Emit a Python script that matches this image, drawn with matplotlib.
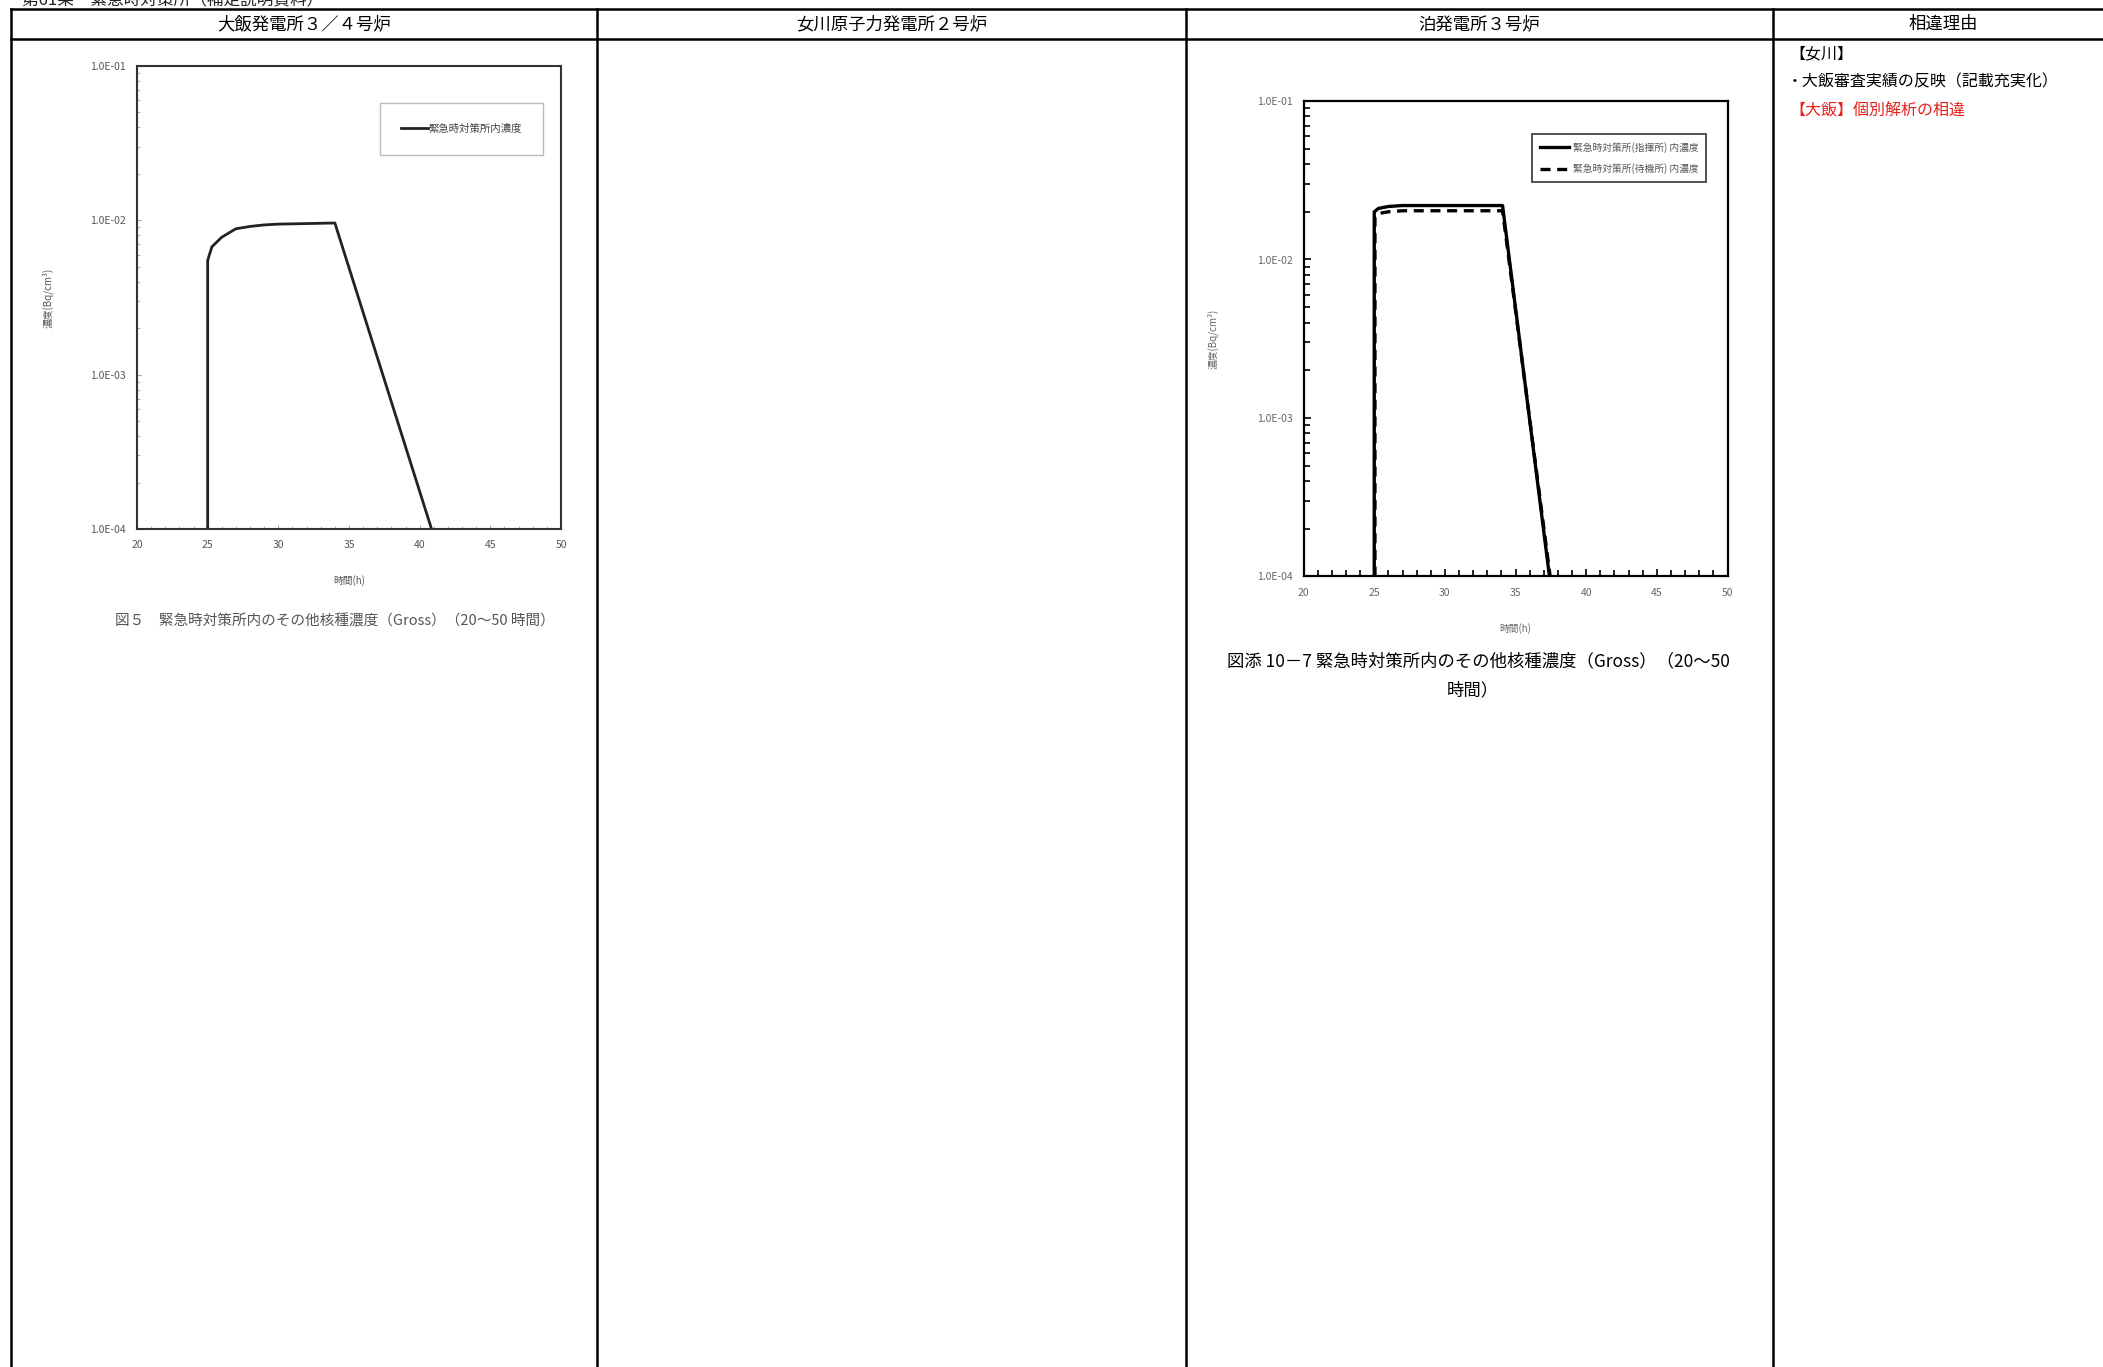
import matplotlib
matplotlib.use('Agg')
import matplotlib.pyplot as plt
from matplotlib.ticker import FixedLocator, LogLocator, MultipleLocator, NullFormatter

plt.rcParams['font.family'] = ['Noto Sans CJK JP', 'DejaVu Sans']

W, H = 2103, 1367

# 表のヘッダ
headers = ['大飯発電所３／４号炉', '女川原子力発電所２号炉', '泊発電所３号炉', '相違理由']
col_edges = [11, 597, 1186, 1773, 2103]

# 大飯 図5 のデータ
ohi_t = [25.0, 25.0, 25.3, 26.0, 27.0, 28.0, 29.0, 30.0, 34.0, 40.84]
ohi_c = [1e-4, 5.5e-3, 6.74e-3, 7.78e-3, 8.82e-3, 9.13e-3, 9.34e-3, 9.45e-3, 9.61e-3, 1e-4]
ohi_legend = '緊急時対策所内濃度'

# 泊 図添10-7 のデータ
tomari_t = [25.0, 25.0, 25.3, 26.0, 27.0, 34.08, 37.4]
tomari_shiki = [1e-4, 2.0e-2, 2.1e-2, 2.16e-2, 2.19e-2, 2.19e-2, 1e-4]
tomari_t2 = [25.05, 25.05, 25.3, 26.0, 27.0, 34.08, 37.45]
tomari_taiki = [1e-4, 1.86e-2, 1.95e-2, 2.0e-2, 2.03e-2, 2.03e-2, 1e-4]
tomari_legend = ['緊急時対策所(指揮所) 内濃度', '緊急時対策所(待機所) 内濃度']

yticks = [1e-4, 1e-3, 1e-2, 1e-1]
ytick_labels = ['1.0E-04', '1.0E-03', '1.0E-02', '1.0E-01']
xticks = [20, 25, 30, 35, 40, 45, 50]

fig = plt.figure(figsize=(W / 100, H / 100), dpi=100)

# 背景（表）
bg = fig.add_axes([0, 0, 1, 1])
bg.set_xlim(0, W)
bg.set_ylim(H, 0)
bg.axis('off')

for x in col_edges[:-1]:
    bg.plot([x, x], [9, H], color='black', lw=1.8)
bg.plot([11, W], [9, 9], color='black', lw=1.8)
bg.plot([11, W], [39, 39], color='black', lw=1.8)

for i, h in enumerate(headers):
    cx = (col_edges[i] + col_edges[i + 1]) / 2
    if i == 3:
        cx = 1943
    bg.text(cx, 24, h, ha='center', va='center', fontsize=12.5)

# 上端で切れている見出し（元の図と同じ）
bg.text(22, 1, '第61条　緊急時対策所（補足説明資料）', ha='left', va='center',
        fontsize=12, style='italic', color='#222222')

# 相違理由
bg.text(1789, 54, '【女川】', ha='left', va='center', fontsize=11.5)
bg.text(1787, 82, '・大飯審査実績の反映（記載充実化）', ha='left', va='center', fontsize=11.5)
bg.text(1789, 111, '【大飯】個別解析の相違', ha='left', va='center', fontsize=11.5, color='#e8201c')


def add_ax(x0, y0, x1, y1):
    return fig.add_axes([x0 / W, 1 - y1 / H, (x1 - x0) / W, (y1 - y0) / H])


# 左のグラフ（大飯）
ax1 = add_ax(137, 66, 561, 529)
ax1.plot(ohi_t, ohi_c, color='#222222', lw=2, label=ohi_legend)
ax1.set_yscale('log')
ax1.set_xlim(20, 50)
ax1.set_ylim(1e-4, 1e-1)
ax1.yaxis.set_major_locator(FixedLocator(yticks))
ax1.set_yticklabels(ytick_labels)
ax1.yaxis.set_minor_locator(LogLocator(base=10, subs=range(2, 10)))
ax1.yaxis.set_minor_formatter(NullFormatter())
ax1.set_xticks(xticks)
ax1.xaxis.set_minor_locator(MultipleLocator(1))
ax1.tick_params(which='both', direction='in', labelsize=7.5, labelcolor='#555555', color='#aaaaaa')
ax1.tick_params(which='major', length=3, pad=8)
ax1.tick_params(which='minor', length=2)
for s in ax1.spines.values():
    s.set_linewidth(1.5)
    s.set_color('#333333')
ax1.set_xlabel('時間(h)', fontsize=7, color='#555555', labelpad=18)
ax1.set_ylabel('濃度(Bq/cm³)', fontsize=7, color='#555555')
ax1.yaxis.set_label_coords(-0.196, 0.5)
leg1 = ax1.legend(loc='upper right', bbox_to_anchor=(0.958, 0.92), fontsize=7.5,
                  handlelength=2.6, borderpad=2.0, fancybox=False, labelcolor='#444444',
                  handletextpad=0.1, borderaxespad=0)
leg1.get_frame().set_edgecolor('#aaaaaa')
leg1.get_frame().set_linewidth(1)

bg.text(335, 622, '図５　緊急時対策所内のその他核種濃度（Gross）（20～50 時間）',
        ha='center', va='center', fontsize=10.5, color='#555555')

# 右のグラフ（泊）
ax2 = add_ax(1303.6, 101, 1727.5, 576.5)
ax2.plot(tomari_t, tomari_shiki, color='black', lw=2.4, label=tomari_legend[0])
ax2.plot(tomari_t2, tomari_taiki, color='black', lw=2.4, ls=(0, (3, 2)), label=tomari_legend[1])
ax2.set_yscale('log')
ax2.set_xlim(20, 50)
ax2.set_ylim(1e-4, 1e-1)
ax2.yaxis.set_major_locator(FixedLocator(yticks))
ax2.set_yticklabels(ytick_labels)
ax2.yaxis.set_minor_locator(LogLocator(base=10, subs=range(2, 10)))
ax2.yaxis.set_minor_formatter(NullFormatter())
ax2.set_xticks(xticks)
ax2.xaxis.set_minor_locator(MultipleLocator(1))
ax2.tick_params(which='both', direction='in', labelsize=7.5, labelcolor='#666666', color='black')
ax2.tick_params(which='major', length=5, width=1.2, pad=8)
ax2.tick_params(which='minor', length=4, width=1.2)
for s in ax2.spines.values():
    s.set_linewidth(1.6)
ax2.set_xlabel('時間(h)', fontsize=7, color='#666666', labelpad=18)
ax2.set_ylabel('濃度(Bq/cm³)', fontsize=7, color='#666666')
ax2.yaxis.set_label_coords(-0.2, 0.5)
leg2 = ax2.legend(loc='upper right', bbox_to_anchor=(0.95, 0.931), fontsize=7,
                  handlelength=3.0, borderpad=0.8, fancybox=False, labelcolor='#555555',
                  handletextpad=0.4, borderaxespad=0, labelspacing=1.1)
leg2.get_frame().set_edgecolor('black')
leg2.get_frame().set_linewidth(1.2)

bg.text(1478, 661, '図添 10－7 緊急時対策所内のその他核種濃度（Gross）（20～50',
        ha='center', va='center', fontsize=12.5)
bg.text(1473, 690, '時間）', ha='center', va='center', fontsize=12.5)

fig.savefig('out.png', dpi=100)
